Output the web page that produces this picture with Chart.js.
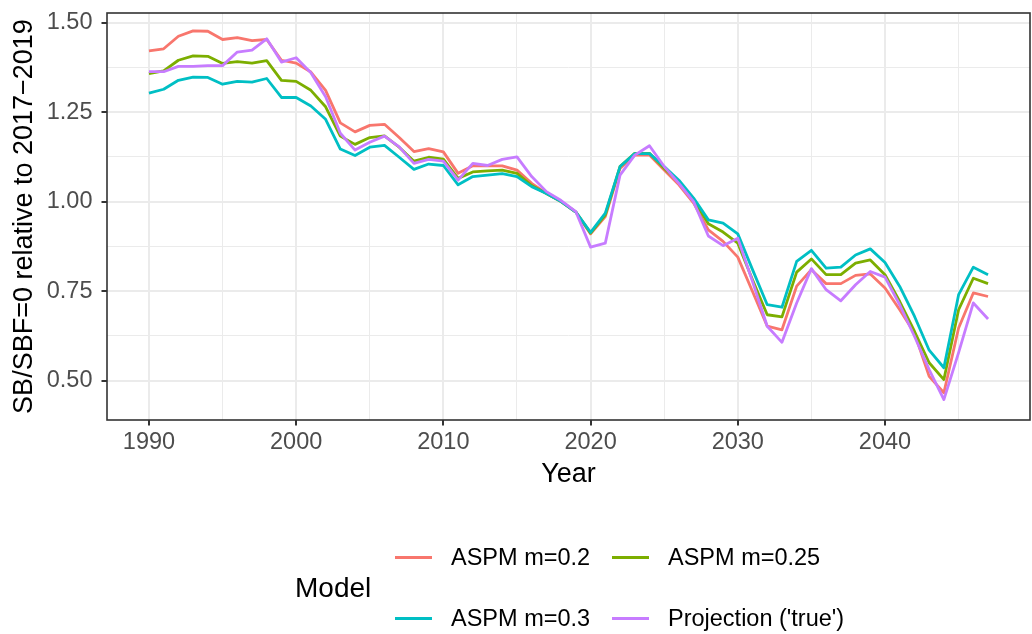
<!DOCTYPE html>
<html>
<head>
<meta charset="utf-8">
<script src="https://cdn.jsdelivr.net/npm/chart.js@4/dist/chart.umd.min.js"></script>
<style>
  body { margin: 0; background: #fff; }
  #wrap { position: relative; width: 1032px; height: 634px; font-family: "Liberation Sans", Arial, sans-serif; }
  #chart { position: absolute; left: 0; top: 0; }
  .lg-title { position: absolute; font-size: 28px; line-height: 32px; color: #000; white-space: nowrap; }
  .lg-text { position: absolute; font-size: 23.5px; line-height: 26px; color: #000; white-space: nowrap; }
  .lg-key { position: absolute; width: 37px; height: 3px; }
</style>
</head>
<body>
<div id="wrap">
  <canvas id="chart" width="1032" height="634"></canvas>
  <div id="legend"></div>
</div>
<script>
// years on the x axis
const years = [
  1990, 1991, 1992, 1993, 1994, 1995, 1996, 1997, 1998, 1999,
  2000, 2001, 2002, 2003, 2004, 2005, 2006, 2007, 2008, 2009,
  2010, 2011, 2012, 2013, 2014, 2015, 2016, 2017, 2018, 2019,
  2020, 2021, 2022, 2023, 2024, 2025, 2026, 2027, 2028, 2029,
  2030, 2031, 2032, 2033, 2034, 2035, 2036, 2037, 2038, 2039,
  2040, 2041, 2042, 2043, 2044, 2045, 2046, 2047,
];

const aspm02 = [
  1.421, 1.427, 1.462, 1.477, 1.476, 1.453, 1.458, 1.450, 1.453, 1.395,
  1.387, 1.362, 1.311, 1.220, 1.195, 1.213, 1.216, 1.179, 1.140, 1.148,
  1.139, 1.079, 1.100, 1.100, 1.100, 1.088, 1.051, 1.023, 1.000, 0.971,
  0.910, 0.958, 1.093, 1.130, 1.130, 1.088, 1.047, 0.996, 0.921, 0.889,
  0.845, 0.749, 0.652, 0.642, 0.764, 0.810, 0.771, 0.771, 0.794, 0.798,
  0.759, 0.698, 0.633, 0.512, 0.466, 0.647, 0.745, 0.735,
];

const aspm025 = [
  1.358, 1.365, 1.395, 1.407, 1.406, 1.386, 1.391, 1.387, 1.394, 1.339,
  1.336, 1.311, 1.265, 1.183, 1.160, 1.179, 1.184, 1.152, 1.113, 1.124,
  1.119, 1.065, 1.083, 1.086, 1.088, 1.079, 1.045, 1.023, 1.000, 0.971,
  0.912, 0.963, 1.098, 1.135, 1.135, 1.093, 1.056, 1.005, 0.938, 0.915,
  0.884, 0.782, 0.684, 0.678, 0.803, 0.840, 0.796, 0.796, 0.828, 0.837,
  0.796, 0.721, 0.638, 0.550, 0.503, 0.698, 0.786, 0.771,
];

const aspm03 = [
  1.303, 1.314, 1.339, 1.348, 1.347, 1.328, 1.336, 1.334, 1.344, 1.291,
  1.291, 1.267, 1.230, 1.147, 1.129, 1.152, 1.157, 1.124, 1.090, 1.105,
  1.101, 1.047, 1.070, 1.074, 1.078, 1.070, 1.042, 1.023, 1.000, 0.971,
  0.914, 0.968, 1.098, 1.134, 1.134, 1.098, 1.060, 1.010, 0.949, 0.940,
  0.910, 0.810, 0.712, 0.705, 0.833, 0.864, 0.814, 0.817, 0.851, 0.868,
  0.830, 0.763, 0.680, 0.585, 0.536, 0.740, 0.817, 0.796,
];

const projection = [
  1.363, 1.363, 1.378, 1.378, 1.380, 1.380, 1.418, 1.423, 1.455, 1.390,
  1.402, 1.360, 1.293, 1.191, 1.144, 1.166, 1.183, 1.153, 1.107, 1.118,
  1.113, 1.060, 1.107, 1.101, 1.118, 1.125, 1.070, 1.028, 1.003, 0.972,
  0.873, 0.884, 1.074, 1.130, 1.156, 1.098, 1.051, 1.000, 0.904, 0.877,
  0.898, 0.777, 0.652, 0.607, 0.717, 0.813, 0.754, 0.723, 0.768, 0.805,
  0.789, 0.712, 0.624, 0.531, 0.447, 0.578, 0.717, 0.672,
];

const seriesNames = ["ASPM m=0.2", "ASPM m=0.25", "ASPM m=0.3", "Projection ('true')"];
const seriesColors = ["#F8766D", "#7CAE00", "#00BFC4", "#C77CFF"];

// major + minor grid positions
const xMajor = [1990, 2000, 2010, 2020, 2030, 2040];
const xMinor = [1995, 2005, 2015, 2025, 2035, 2045];
const yMajor = [0.5, 0.75, 1.0, 1.25, 1.5];
const yMinor = [0.625, 0.875, 1.125, 1.375];

const FONT = "'Liberation Sans', Arial, sans-serif";
Chart.defaults.font.family = FONT;

function toPoints(values) {
  return years.map((yr, i) => ({ x: yr, y: values[i] }));
}

const allSeries = [aspm02, aspm025, aspm03, projection];
const datasets = allSeries.map((values, i) => ({
  label: seriesNames[i],
  data: toPoints(values),
  borderColor: seriesColors[i],
  backgroundColor: seriesColors[i],
  borderWidth: 2.8,
  pointRadius: 0,
  tension: 0,
  borderJoinStyle: "round",
  fill: false,
  order: allSeries.length - i, // last series drawn on top, like ggplot
}));

function isMajor(list, v) {
  return list.some((m) => Math.abs(m - v) < 1e-9);
}

// draws the dark box round the panel
const panelBorder = {
  id: "panelBorder",
  afterDatasetsDraw(chart) {
    const { ctx, chartArea: a } = chart;
    ctx.save();
    ctx.strokeStyle = "#333333";
    ctx.lineWidth = 1.6;
    ctx.strokeRect(a.left, a.top, a.right - a.left, a.bottom - a.top);
    ctx.restore();
  },
};

new Chart(document.getElementById("chart").getContext("2d"), {
  type: "line",
  data: { datasets: datasets },
  options: {
    responsive: false,
    animation: false,
    layout: { padding: { left: 8, top: 13, right: 2, bottom: 143 } },
    plugins: { legend: { display: false }, tooltip: { enabled: false } },
    scales: {
      x: {
        type: "linear",
        min: 1987.15,
        max: 2049.85,
        afterBuildTicks: (scale) => {
          scale.ticks = xMajor.concat(xMinor).map((v) => ({ value: v }));
        },
        afterFit: (scale) => {
          scale.height = 71;
          scale.paddingLeft = 0;
          scale.paddingRight = 0;
        },
        border: { display: false },
        grid: {
          color: "#EBEBEB",
          lineWidth: (ctx) => (isMajor(xMajor, ctx.tick.value) ? 2 : 1),
          tickColor: (ctx) => (isMajor(xMajor, ctx.tick.value) ? "#333333" : "rgba(0,0,0,0)"),
          tickLength: 5.5,
          tickWidth: 2,
        },
        ticks: {
          autoSkip: false,
          maxRotation: 0,
          minRotation: 0,
          includeBounds: false,
          padding: 3,
          color: "#4D4D4D",
          font: { size: 23.5 },
          callback: (v) => (isMajor(xMajor, v) ? String(v) : ""),
        },
        title: {
          display: true,
          text: "Year",
          color: "#000",
          font: { size: 27 },
          padding: 0,
        },
      },
      y: {
        type: "linear",
        min: 0.39,
        max: 1.527,
        afterBuildTicks: (scale) => {
          scale.ticks = yMajor.concat(yMinor).map((v) => ({ value: v }));
        },
        afterFit: (scale) => {
          scale.width = 99;
          scale.paddingTop = 0;
          scale.paddingBottom = 0;
        },
        border: { display: false },
        grid: {
          color: "#EBEBEB",
          lineWidth: (ctx) => (isMajor(yMajor, ctx.tick.value) ? 2 : 1),
          tickColor: (ctx) => (isMajor(yMajor, ctx.tick.value) ? "#333333" : "rgba(0,0,0,0)"),
          tickLength: 5.5,
          tickWidth: 2,
        },
        ticks: {
          autoSkip: false,
          includeBounds: false,
          padding: 9,
          color: "#4D4D4D",
          font: { size: 23.5 },
          callback: (v) => (isMajor(yMajor, v) ? Number(v).toFixed(2) : ""),
        },
        title: {
          display: true,
          text: "SB/SBF=0 relative to 2017\u22122019",
          color: "#000",
          font: { size: 27 },
          padding: 0,
        },
      },
    },
  },
  plugins: [panelBorder],
});

// legend below the plot: title on the left, keys in a 2 x 2 grid
const legend = document.getElementById("legend");
const keyCols = [395, 612];
const textCols = [451, 668];
const rowCenters = [557, 618];

const title = document.createElement("div");
title.className = "lg-title";
title.textContent = "Model";
title.style.left = "295px";
title.style.top = 588 - 16 + "px";
legend.appendChild(title);

seriesNames.forEach((name, i) => {
  const row = Math.floor(i / 2);
  const col = i % 2;
  const key = document.createElement("div");
  key.className = "lg-key";
  key.style.background = seriesColors[i];
  key.style.left = keyCols[col] + "px";
  key.style.top = rowCenters[row] - 1.5 + "px";
  legend.appendChild(key);

  const text = document.createElement("div");
  text.className = "lg-text";
  text.textContent = name;
  text.style.left = textCols[col] + "px";
  text.style.top = rowCenters[row] - 13 + "px";
  legend.appendChild(text);
});
</script>
</body>
</html>
